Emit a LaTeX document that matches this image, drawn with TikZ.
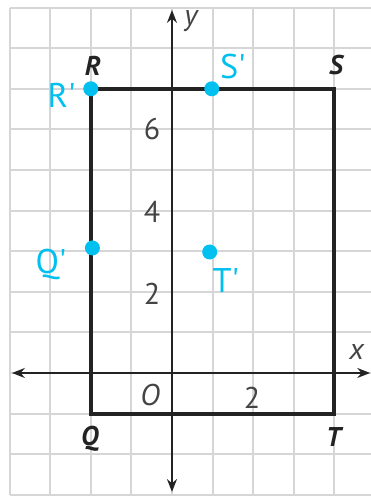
\documentclass[tikz,border=0pt]{standalone}
\usepackage{fontspec}
\setmainfont{PT Sans}
\usetikzlibrary{arrows.meta}
\definecolor{gridgray}{RGB}{214,214,216}
\definecolor{pen}{RGB}{0,192,240}
\definecolor{ink}{RGB}{35,35,35}
\tikzset{
  gridline/.style={draw=gridgray, line width=1.3pt},
  axisline/.style={draw=ink, line width=1.2pt, {Stealth[length=9pt,width=7pt]}-{Stealth[length=9pt,width=7pt]}},
  rectline/.style={draw=ink, line width=2.8pt, line join=miter},
  vlabel/.style={font=\fontsize{19}{21}\selectfont\bfseries\itshape, text=ink, inner sep=0pt},
  axlabel/.style={font=\fontsize{21}{24}\selectfont\itshape, text=ink!85, inner sep=0pt},
  numlabel/.style={font=\fontsize{21}{24}\selectfont, text=ink!85, inner sep=0pt},
  dotmark/.style={circle, fill=pen, inner sep=0pt, minimum size=10.5pt},
  handlabel/.style={font=\fontsize{24}{26}\selectfont, text=pen, inner sep=0pt}
}
\begin{document}
\begin{tikzpicture}[x=1cm,y=1cm]
\useasboundingbox (-4.236,-3.030) rectangle (4.901,9.187);
\fill[white] (-4.236,-3.030) rectangle (4.901,9.187);
% grid
\foreach \i in {-4,...,4} \draw[gridline] (\i,-3) -- (\i,9);
\foreach \j in {-3,...,9} \draw[gridline] (-4,\j) -- (4.95,\j);
% axes
\coordinate (xl) at (-3.94,0);
\coordinate (xr) at (4.88,0);
\coordinate (yb) at (0,-2.93);
\coordinate (yt) at (0,8.94);
\draw[axisline] (xl) -- (xr);
\draw[axisline] (yb) -- (yt);
% rectangle
\coordinate (R) at (-2,7);
\coordinate (S) at (4,7);
\coordinate (T) at (4,-1);
\coordinate (Q) at (-2,-1);
\draw[rectline] (R) -- (S) -- (T) -- (Q) -- cycle;
% labels
\node[axlabel] (ylab) at (0.47,8.66) {y};
\node[axlabel] (xlab) at (4.55,0.52) {x};
\node[vlabel] (Rl) at (-1.95,7.56) {R};
\node[vlabel] (Sl) at (4.04,7.58) {S};
\node[vlabel] (Ql) at (-2.02,-1.62) {Q};
\node[vlabel] (Tl) at (3.98,-1.58) {T};
\node[axlabel] (Ol) at (-0.54,-0.54) {O};
\node[numlabel] (x2) at (1.97,-0.62) {2};
\node[numlabel] (y6) at (-0.49,6.0) {6};
\node[numlabel] (y4) at (-0.49,3.97) {4};
\node[numlabel] (y2) at (-0.49,1.95) {2};
% blue marks
\node[dotmark] (Rp) at (-2,7.0) {};
\node[dotmark] (Sp) at (0.98,7.0) {};
\node[dotmark] (Qp) at (-1.96,3.08) {};
\node[dotmark] (Tp) at (0.93,2.98) {};
\node[handlabel] (Rpl) at (-2.72,6.85) {R\textquotesingle};
\node[handlabel] (Spl) at (1.5,7.55) {S\textquotesingle};
\node[handlabel] (Qpl) at (-2.98,2.68) {Q\textquotesingle};
\node[handlabel] (Tpl) at (1.33,2.28) {T\textquotesingle};
\end{tikzpicture}
\end{document}
